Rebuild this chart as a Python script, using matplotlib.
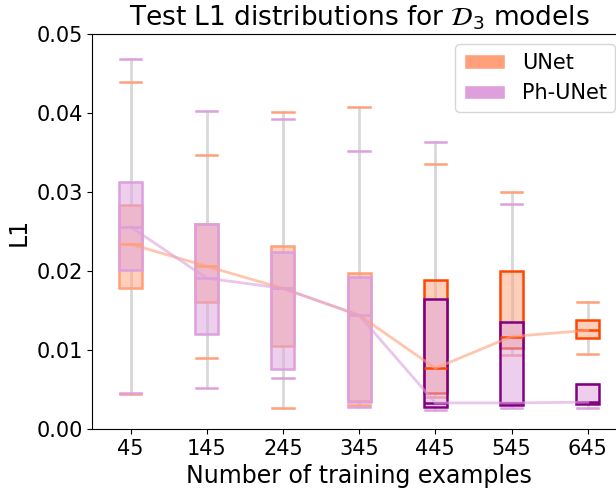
import numpy as np
import matplotlib
matplotlib.use("Agg")
import matplotlib.pyplot as plt
from matplotlib.patches import Patch
from matplotlib.colors import to_rgba

# training set sizes
n_train = [45, 145, 245, 345, 445, 545, 645]

# UNet test L1 stats
unet_whislo = [0.0044, 0.0090, 0.0026, 0.0030, 0.0041, 0.0094, 0.0095]
unet_q1 = [0.0178, 0.0161, 0.0105, 0.0035, 0.0045, 0.0103, 0.0115]
unet_med = [0.0234, 0.0206, 0.0178, 0.0144, 0.0077, 0.0117, 0.0125]
unet_q3 = [0.0284, 0.0260, 0.0232, 0.0198, 0.0189, 0.0200, 0.0138]
unet_whishi = [0.0439, 0.0347, 0.0401, 0.0408, 0.0335, 0.0300, 0.0161]

# Ph-UNet test L1 stats
ph_whislo = [0.0046, 0.0052, 0.0064, 0.0028, 0.0024, 0.0026, 0.0026]
ph_q1 = [0.0201, 0.0120, 0.0076, 0.0034, 0.0028, 0.0031, 0.0032]
ph_med = [0.0256, 0.0191, 0.0178, 0.0144, 0.0033, 0.0033, 0.0034]
ph_q3 = [0.0313, 0.0260, 0.0224, 0.0192, 0.0165, 0.0136, 0.0057]
ph_whishi = [0.0469, 0.0403, 0.0393, 0.0352, 0.0363, 0.0285, 0.0057]

light_or, dark_or = '#FFA07A', '#FF4500'
light_pu, dark_pu = '#DDA0DD', '#800080'

fig = plt.figure(figsize=(6.16, 4.9), dpi=100)
ax = fig.add_axes([0.150, 0.1245, 0.866, 0.806])

pos = np.arange(len(n_train))


def make_stats(lo, q1, med, q3, hi):
    return [dict(whislo=lo[i], q1=q1[i], med=med[i], q3=q3[i], whishi=hi[i], fliers=[])
            for i in range(len(lo))]


def draw(stats, light, dark):
    for i, s in enumerate(stats):
        edge = light if i < 4 else dark
        ax.bxp([s], positions=[pos[i]], widths=0.3, capwidths=0.28,
               patch_artist=True, showfliers=False,
               boxprops=dict(facecolor=to_rgba(light, 0.5), edgecolor=edge,
                             linewidth=1.8, zorder=2),
               medianprops=dict(color=edge, linewidth=1.8, zorder=2.5),
               whiskerprops=dict(color='#d9d9d9', linewidth=2, zorder=1),
               capprops=dict(color=light, linewidth=1.8, zorder=1.5))


unet_stats = make_stats(unet_whislo, unet_q1, unet_med, unet_q3, unet_whishi)
ph_stats = make_stats(ph_whislo, ph_q1, ph_med, ph_q3, ph_whishi)
draw(unet_stats, light_or, dark_or)
draw(ph_stats, light_pu, dark_pu)

# median trend lines
ax.plot(pos, unet_med, color=light_or, alpha=0.6, linewidth=2, zorder=3)
ax.plot(pos, ph_med, color=light_pu, alpha=0.6, linewidth=2, zorder=3)

ax.set_xlim(-0.5, 6.5)
ax.set_ylim(0, 0.05)
ax.set_xticks(pos)
ax.set_xticklabels([str(n) for n in n_train])
ax.tick_params(labelsize=15)
ax.yaxis.set_major_formatter(matplotlib.ticker.FormatStrFormatter('%.2f'))

ax.set_xlabel("Number of training examples", fontsize=17)
ax.set_ylabel("L1", fontsize=17)
ax.set_title(r"Test L1 distributions for $\mathcal{D}_3$ models", fontsize=19)

handles = [Patch(facecolor=light_or, edgecolor='white', label='UNet'),
           Patch(facecolor=light_pu, edgecolor='white', label='Ph-UNet')]
ax.legend(handles=handles, loc='upper right', fontsize=15)

fig.savefig("out.png", dpi=100)
